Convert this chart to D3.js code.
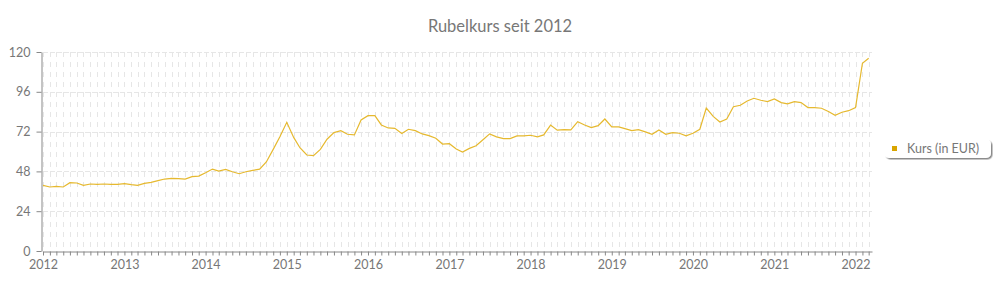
<!DOCTYPE html>
<html lang="de">
<head>
<meta charset="UTF-8">
<title>Rubelkurs seit 2012</title>
<script src="https://d3js.org/d3.v7.min.js"></script>
<style>
  body { margin: 0; background: #fff; font-family: Lato, "Open Sans", sans-serif; }
  .grid line { stroke: #e6e6e6; stroke-width: 1; }
  .axis path, .axis line { stroke: #888; }
  .axis text { fill: #777; font-size: 12.5px; font-family: Lato, sans-serif; }
</style>
</head>
<body>
<div id="chart"></div>
<script>
// monthly rate, Jan 2012 .. Mar 2022
const startMonth = "2012-01";
const kurs = [
  39.6, 38.6, 39.0, 38.6, 41.2, 41.0, 39.6, 40.4, 40.2, 40.4, 40.2, 40.2,
  40.6, 40.0, 39.6, 40.8, 41.4, 42.4, 43.4, 43.8, 43.6, 43.4, 44.8, 45.2,
  47.2, 49.4, 48.2, 49.2, 47.8, 46.6, 47.8, 48.6, 49.4, 53.7, 61.3, 68.9,
  77.6, 68.5, 62.3, 57.9, 57.5, 61.3, 67.4, 71.4, 72.6, 70.4, 70.0, 79.0,
  81.6, 81.6, 76.0, 74.2, 74.0, 70.8, 73.4, 72.6, 70.6, 69.6, 68.0, 64.5,
  64.7, 61.5, 59.7, 61.9, 63.5, 67.1, 70.6, 68.8, 67.8, 67.8, 69.4, 69.4,
  69.8, 68.8, 70.0, 75.9, 72.9, 73.2, 73.0, 78.0, 76.0, 74.4, 75.6, 79.6,
  74.8, 74.8, 73.8, 72.6, 73.2, 71.8, 70.4, 73.0, 70.4, 71.4, 71.0, 69.4,
  71.0, 73.4, 86.2, 81.2, 77.8, 79.6, 87.0, 87.9, 90.5, 92.1, 90.9, 90.1,
  91.7, 89.5, 88.7, 90.1, 89.5, 86.5, 86.5, 86.1, 84.1, 81.8, 83.7, 84.6,
  86.5, 113.2, 116.2
];
const yTicks = [0, 24, 48, 72, 96, 120];
const yearTicks = [2012, 2013, 2014, 2015, 2016, 2017, 2018, 2019, 2020, 2021, 2022];
const seriesName = "Kurs (in EUR)";
const title = "Rubelkurs seit 2012";

const width = 1000, height = 300;
const margin = { top: 52, right: 128, bottom: 49, left: 43 };

const parseMonth = d3.timeParse("%Y-%m");
const t0 = parseMonth(startMonth);
const data = kurs.map((v, i) => ({ date: d3.timeMonth.offset(t0, i), value: v }));

const svg = d3.select("#chart").append("svg")
  .attr("width", width)
  .attr("height", height);

const x = d3.scaleTime()
  .domain([t0, d3.timeDay.offset(data[data.length - 1].date, 15)])
  .range([margin.left, width - margin.right]);

const y = d3.scaleLinear()
  .domain([0, 120])
  .range([height - margin.bottom, margin.top]);

const months = d3.timeMonth.range(t0, x.domain()[1]);

// grid
const grid = svg.append("g").attr("class", "grid");
grid.selectAll("line.v")
  .data(months)
  .enter().append("line")
  .attr("class", "v")
  .attr("x1", d => Math.round(x(d)) + 0.5)
  .attr("x2", d => Math.round(x(d)) + 0.5)
  .attr("y1", y(120))
  .attr("y2", y(0))
  .attr("stroke-dasharray", "5,5");
grid.selectAll("line.h")
  .data(yTicks.filter(d => d > 0))
  .enter().append("line")
  .attr("class", "h")
  .attr("x1", margin.left)
  .attr("x2", width - margin.right)
  .attr("y1", d => Math.round(y(d)) + 0.5)
  .attr("y2", d => Math.round(y(d)) + 0.5)
  .attr("stroke-dasharray", "5,2");

// axes
svg.append("g")
  .attr("class", "axis")
  .attr("transform", `translate(${margin.left - 1.5},0)`)
  .call(d3.axisLeft(y).tickValues(yTicks).tickSize(5).tickSizeOuter(0).tickPadding(6))
  .call(g => g.selectAll(".tick line").attr("stroke", "#aaa"));

svg.append("g")
  .attr("class", "axis")
  .attr("transform", `translate(0,${y(0) + 0.5})`)
  .call(d3.axisBottom(x).tickValues(months).tickSize(4).tickSizeOuter(0).tickFormat(""));

svg.append("g")
  .attr("class", "axis")
  .attr("transform", `translate(0,${y(0) + 0.5})`)
  .call(d3.axisBottom(x)
    .tickValues(yearTicks.map(yr => new Date(yr, 0, 1)))
    .tickSize(0).tickPadding(9)
    .tickFormat(d3.timeFormat("%Y")))
  .call(g => g.select(".domain").remove());

// line
const line = d3.line()
  .x(d => x(d.date))
  .y(d => y(d.value));

svg.append("path")
  .datum(data)
  .attr("fill", "none")
  .attr("stroke", "#e6b92f")
  .attr("stroke-width", 1.2)
  .attr("d", line);

// title
svg.append("text")
  .attr("x", width / 2)
  .attr("y", 32)
  .attr("text-anchor", "middle")
  .attr("fill", "#777")
  .attr("font-size", "16.5px")
  .text(title);

// legend
const defs = svg.append("defs");
const shadow = defs.append("filter").attr("id", "shadow")
  .attr("x", "-10%").attr("y", "-20%").attr("width", "130%").attr("height", "160%");
shadow.append("feDropShadow")
  .attr("dx", 1.5).attr("dy", 1.5).attr("stdDeviation", 0.6)
  .attr("flood-color", "#000").attr("flood-opacity", 0.45);

const legend = svg.append("g").attr("transform", "translate(884,139)");
legend.append("rect")
  .attr("width", 107)
  .attr("height", 19)
  .attr("rx", 5)
  .attr("fill", "#fff")
  .attr("filter", "url(#shadow)");
legend.append("rect")
  .attr("x", 8)
  .attr("y", 7)
  .attr("width", 5)
  .attr("height", 5)
  .attr("fill", "#d9a500");
legend.append("text")
  .attr("x", 23)
  .attr("y", 14)
  .attr("fill", "#777")
  .attr("font-size", "12.5px")
  .text(seriesName);
</script>
</body>
</html>
